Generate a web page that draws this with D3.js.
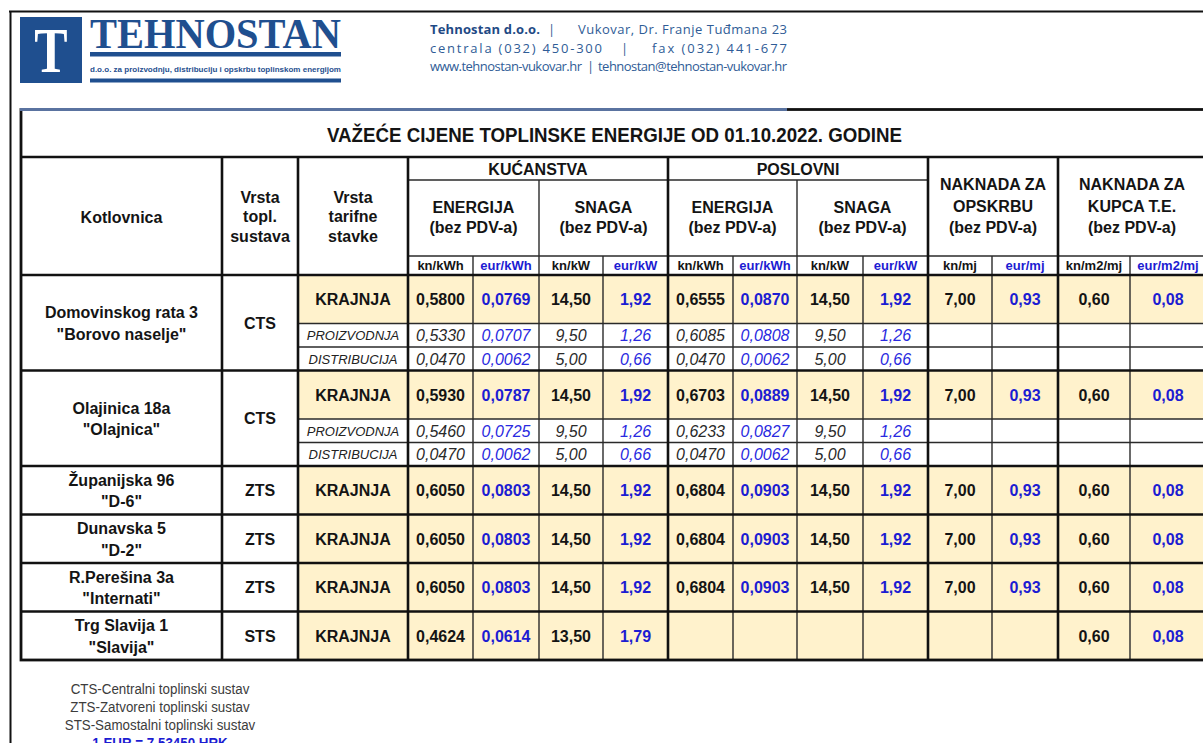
<!DOCTYPE html>
<html>
<head>
<meta charset="utf-8">
<script src="https://cdn.jsdelivr.net/npm/d3@7"></script>
<style>
html, body { margin: 0; padding: 0; background: #fff; overflow: hidden; }
svg { display: block; }
text { font-family: "Liberation Sans", Arial, sans-serif; }
</style>
</head>
<body>
<svg id="svg" width="1203" height="743"></svg>
<script>
// ---- data ----
var title = "VAŽEĆE CIJENE TOPLINSKE ENERGIJE OD 01.10.2022. GODINE";
var locations = [
  ["Domovinskog rata 3", "\"Borovo naselje\""],
  ["Olajinica 18a", "\"Olajnica\""],
  ["Županijska 96", "\"D-6\""],
  ["Dunavska 5", "\"D-2\""],
  ["R.Perešina 3a", "\"Internati\""],
  ["Trg Slavija 1", "\"Slavija\""]
];
var systems = ["CTS", "CTS", "ZTS", "ZTS", "ZTS", "STS"];
var rowTypes = ["KRAJNJA", "PROIZVODNJA", "DISTRIBUCIJA", "KRAJNJA", "PROIZVODNJA", "DISTRIBUCIJA", "KRAJNJA", "KRAJNJA", "KRAJNJA", "KRAJNJA"];
var rowBlock = [0, 0, 0, 1, 1, 1, 2, 3, 4, 5];

var kucEnergijaKn  = [0.5800, 0.5330, 0.0470, 0.5930, 0.5460, 0.0470, 0.6050, 0.6050, 0.6050, 0.4624];
var kucEnergijaEur = [0.0769, 0.0707, 0.0062, 0.0787, 0.0725, 0.0062, 0.0803, 0.0803, 0.0803, 0.0614];
var kucSnagaKn     = [14.50, 9.50, 5.00, 14.50, 9.50, 5.00, 14.50, 14.50, 14.50, 13.50];
var kucSnagaEur    = [1.92, 1.26, 0.66, 1.92, 1.26, 0.66, 1.92, 1.92, 1.92, 1.79];
var posEnergijaKn  = [0.6555, 0.6085, 0.0470, 0.6703, 0.6233, 0.0470, 0.6804, 0.6804, 0.6804, null];
var posEnergijaEur = [0.0870, 0.0808, 0.0062, 0.0889, 0.0827, 0.0062, 0.0903, 0.0903, 0.0903, null];
var posSnagaKn     = [14.50, 9.50, 5.00, 14.50, 9.50, 5.00, 14.50, 14.50, 14.50, null];
var posSnagaEur    = [1.92, 1.26, 0.66, 1.92, 1.26, 0.66, 1.92, 1.92, 1.92, null];
var opskrbaKn      = [7.00, null, null, 7.00, null, null, 7.00, 7.00, 7.00, null];
var opskrbaEur     = [0.93, null, null, 0.93, null, null, 0.93, 0.93, 0.93, null];
var kupacKn        = [0.60, null, null, 0.60, null, null, 0.60, 0.60, 0.60, 0.60];
var kupacEur       = [0.08, null, null, 0.08, null, null, 0.08, 0.08, 0.08, 0.08];

var unitLabels = ["kn/kWh", "eur/kWh", "kn/kW", "eur/kW", "kn/kWh", "eur/kWh", "kn/kW", "eur/kW", "kn/mj", "eur/mj", "kn/m2/mj", "eur/m2/mj"];
var footNotes = ["CTS-Centralni toplinski sustav", "ZTS-Zatvoreni toplinski sustav", "STS-Samostalni toplinski sustav"];
var exchange = "1 EUR = 7,53450 HRK";

// ---- layout ----
var blue = "#1f4f8f";
var valBlue = "#1c1cd2";
var ink = "#141414";
var beige = "#fff2cc";

var hr = d3.formatLocale({decimal: ",", thousands: ".", grouping: [3], currency: ["", ""]});
var f4 = hr.format(".4f"), f2 = hr.format(".2f");

var valueCols = [
  {key: "kucEnKn", values: kucEnergijaKn, fmt: f4, eur: false},
  {key: "kucEnEur", values: kucEnergijaEur, fmt: f4, eur: true},
  {key: "kucSnKn", values: kucSnagaKn, fmt: f2, eur: false},
  {key: "kucSnEur", values: kucSnagaEur, fmt: f2, eur: true},
  {key: "posEnKn", values: posEnergijaKn, fmt: f4, eur: false},
  {key: "posEnEur", values: posEnergijaEur, fmt: f4, eur: true},
  {key: "posSnKn", values: posSnagaKn, fmt: f2, eur: false},
  {key: "posSnEur", values: posSnagaEur, fmt: f2, eur: true},
  {key: "opsKn", values: opskrbaKn, fmt: f2, eur: false},
  {key: "opsEur", values: opskrbaEur, fmt: f2, eur: true},
  {key: "kupKn", values: kupacKn, fmt: f2, eur: false},
  {key: "kupEur", values: kupacEur, fmt: f2, eur: true}
];

var colKeys = ["loc", "sys", "tar"].concat(valueCols.map(function(c){ return c.key; }));
var colEdges = [21, 222, 298, 408, 473, 539, 603, 668, 733, 797, 863, 928, 992, 1058, 1130, 1206];
var xStart = d3.scaleOrdinal(colKeys, colEdges.slice(0, -1));
var xEnd = d3.scaleOrdinal(colKeys, colEdges.slice(1));
function xMid(k) { return (xStart(k) + xEnd(k)) / 2; }

var tableTop = 109.5, titleBottom = 157, groupBottom = 180, labelBottom = 256, headBottom = 275;
var rowIds = d3.range(rowTypes.length);
var rowH = rowTypes.map(function(t){ return t === "KRAJNJA" ? 48.5 : 23.5; });
var rowTops = [headBottom].concat(Array.from(d3.cumsum(rowH), function(v){ return headBottom + v; }));
var yTop = d3.scaleOrdinal(rowIds, rowTops.slice(0, -1));
var yBot = d3.scaleOrdinal(rowIds, rowTops.slice(1));
var tableBottom = rowTops[rowTops.length - 1];
var tableLeft = colEdges[0], tableRight = colEdges[colEdges.length - 1];

const svg = d3.select('#svg');

// centred text helper, cy = visual middle of capitals
function label(g, x, cy, str, size, opt) {
  opt = opt || {};
  return g.append("text")
    .attr("x", x)
    .attr("y", cy + size * 0.355)
    .attr("text-anchor", opt.anchor || "middle")
    .style("font-size", size + "px")
    .style("font-weight", opt.bold ? "bold" : "normal")
    .style("font-style", opt.italic ? "italic" : "normal")
    .style("fill", opt.color || ink)
    .text(str);
}

// ---- page frame + letterhead ----
svg.append("line").attr("x1", 9).attr("x2", 1203).attr("y1", 11.5).attr("y2", 11.5)
  .style("stroke", "#111").style("stroke-width", 2);
svg.append("line").attr("x1", 10.5).attr("x2", 10.5).attr("y1", 11).attr("y2", 743)
  .style("stroke", "#111").style("stroke-width", 2);

var head = svg.append("g");
head.append("rect").attr("x", 20).attr("y", 17).attr("width", 62).attr("height", 66).style("fill", blue);
head.append("text")
  .attr("transform", "translate(51,72) scale(0.78,1)")
  .attr("text-anchor", "middle")
  .style("font-family", "'Liberation Serif', 'DejaVu Serif', serif")
  .style("font-weight", "bold").style("font-size", "64px").style("fill", "#fff")
  .text("T");
head.append("text")
  .attr("x", 90).attr("y", 48)
  .attr("textLength", 251).attr("lengthAdjust", "spacingAndGlyphs")
  .style("font-family", "'Liberation Serif', 'DejaVu Serif', serif")
  .style("font-weight", "bold").style("font-size", "43px").style("fill", blue)
  .text("TEHNOSTAN");
head.append("rect").attr("x", 90).attr("y", 52).attr("width", 251).attr("height", 4.5).style("fill", blue);
head.append("text")
  .attr("x", 90).attr("y", 71.5)
  .attr("textLength", 251).attr("lengthAdjust", "spacingAndGlyphs")
  .style("font-size", "7.5px").style("font-weight", "bold").style("fill", blue)
  .text("d.o.o. za proizvodnju, distribuciju i opskrbu toplinskom energijom");
head.append("rect").attr("x", 90).attr("y", 78.5).attr("width", 251).attr("height", 4).style("fill", blue);

var contact = [
  {x: 430, y: 34, w: 110, s: "Tehnostan d.o.o.", bold: true},
  {x: 548, y: 34, w: 0, s: "|"},
  {x: 578, y: 34, w: 209, s: "Vukovar, Dr. Franje Tuđmana 23"},
  {x: 430, y: 53, w: 172, s: "centrala (032) 450-300"},
  {x: 621, y: 53, w: 0, s: "|"},
  {x: 652, y: 53, w: 135, s: "fax (032) 441-677"},
  {x: 430, y: 71, w: 152, s: "www.tehnostan-vukovar.hr"},
  {x: 587, y: 71, w: 0, s: "|"},
  {x: 598, y: 71, w: 189, s: "tehnostan@tehnostan-vukovar.hr"}
];
contact.forEach(function(c) {
  var t = head.append("text")
    .attr("x", c.x).attr("y", c.y)
    .style("font-family", "'Open Sans', 'Noto Sans', sans-serif")
    .style("font-size", "13px")
    .style("font-weight", c.bold ? "bold" : "normal")
    .style("fill", c.bold ? "#1f4a85" : "#2f5c96")
    .text(c.s);
  if (c.w) t.attr("textLength", c.w).attr("lengthAdjust", "spacing");
});

// ---- table ----
var table = svg.append("g");

// beige fills on final-price rows
table.selectAll("rect.fill")
  .data(rowIds.filter(function(r){ return rowTypes[r] === "KRAJNJA"; }))
  .join("rect").attr("class", "fill")
  .attr("x", xStart("tar")).attr("y", function(r){ return yTop(r); })
  .attr("width", tableRight - xStart("tar"))
  .attr("height", function(r){ return yBot(r) - yTop(r); })
  .style("fill", beige);

var thin = [], thick = [];
// header thin lines
thin.push([xStart("kucEnKn"), groupBottom, xEnd("posSnEur"), groupBottom]);
thin.push([xStart("kucEnKn"), labelBottom, tableRight, labelBottom]);
["kucEnEur", "kucSnEur", "posEnEur", "posSnEur", "opsEur", "kupEur"].forEach(function(k) {
  thin.push([xStart(k), labelBottom, xStart(k), tableBottom]);
});
["kucSnKn", "posSnKn"].forEach(function(k) {
  thin.push([xStart(k), groupBottom, xStart(k), tableBottom]);
});
// sub-row separators
rowIds.forEach(function(r) {
  if (rowTypes[r] !== "KRAJNJA") thin.push([xStart("tar"), yTop(r), tableRight, yTop(r)]);
});
// thick lines
thick.push([tableLeft, titleBottom, tableRight, titleBottom]);
thick.push([tableLeft, headBottom, tableRight, headBottom]);
rowIds.forEach(function(r) {
  if (r > 0 && rowBlock[r] !== rowBlock[r - 1]) thick.push([tableLeft, yTop(r), tableRight, yTop(r)]);
});
["sys", "tar", "kucEnKn", "posEnKn", "opsKn", "kupKn"].forEach(function(k) {
  thick.push([xStart(k), titleBottom, xStart(k), tableBottom]);
});

table.selectAll("line.thin").data(thin).join("line").attr("class", "thin")
  .attr("x1", function(d){ return d[0]; }).attr("y1", function(d){ return d[1]; })
  .attr("x2", function(d){ return d[2]; }).attr("y2", function(d){ return d[3]; })
  .style("stroke", "#2a2a2a").style("stroke-width", 1.4);
table.selectAll("line.thick").data(thick).join("line").attr("class", "thick")
  .attr("x1", function(d){ return d[0]; }).attr("y1", function(d){ return d[1]; })
  .attr("x2", function(d){ return d[2]; }).attr("y2", function(d){ return d[3]; })
  .style("stroke", "#111").style("stroke-width", 2.6);
table.append("rect")
  .attr("x", tableLeft).attr("y", tableTop)
  .attr("width", tableRight - tableLeft).attr("height", tableBottom - tableTop)
  .style("fill", "none").style("stroke", "#111").style("stroke-width", 2.8);
// blue rule under the letterhead
table.append("line").attr("x1", tableLeft - 1).attr("x2", 787).attr("y1", tableTop).attr("y2", tableTop)
  .style("stroke", "#5a73a0").style("stroke-width", 2.8);

// title
table.append("text")
  .attr("x", 614.5).attr("y", 141.5)
  .attr("text-anchor", "middle")
  .attr("textLength", 575).attr("lengthAdjust", "spacingAndGlyphs")
  .style("font-size", "19.5px").style("font-weight", "bold").style("fill", ink)
  .text(title);

// header texts
var hd = table.append("g");
function stack(x, cys, lines) {
  lines.forEach(function(s, i){ label(hd, x, cys[i], s, 16, {bold: true}); });
}
label(hd, xMid("loc"), 217, "Kotlovnica", 16, {bold: true});
stack(xMid("sys"), [197, 216.5, 236], ["Vrsta", "topl.", "sustava"]);
stack(xMid("tar"), [197, 216.5, 236], ["Vrsta", "tarifne", "stavke"]);
label(hd, (xStart("kucEnKn") + xEnd("kucSnEur")) / 2, 169, "KUĆANSTVA", 16, {bold: true});
label(hd, (xStart("posEnKn") + xEnd("posSnEur")) / 2, 169, "POSLOVNI", 16, {bold: true});
[["kucEnKn", "kucEnEur", "ENERGIJA"], ["kucSnKn", "kucSnEur", "SNAGA"],
 ["posEnKn", "posEnEur", "ENERGIJA"], ["posSnKn", "posSnEur", "SNAGA"]].forEach(function(g) {
  stack((xStart(g[0]) + xEnd(g[1])) / 2, [207, 227], [g[2], "(bez PDV-a)"]);
});
stack((xStart("opsKn") + xEnd("opsEur")) / 2, [184.5, 206, 227], ["NAKNADA ZA", "OPSKRBU", "(bez PDV-a)"]);
stack((xStart("kupKn") + xEnd("kupEur")) / 2, [184.5, 206, 227], ["NAKNADA ZA", "KUPCA T.E.", "(bez PDV-a)"]);
valueCols.forEach(function(c, i) {
  label(hd, xMid(c.key), 265.5, unitLabels[i], 13, {bold: true, color: c.eur ? valBlue : ink});
});

// body texts
var body = table.append("g");
d3.range(locations.length).forEach(function(b) {
  var rows = rowIds.filter(function(r){ return rowBlock[r] === b; });
  var top = yTop(rows[0]), bot = yBot(rows[rows.length - 1]);
  var cy = (top + bot) / 2 + 0.5;
  label(body, xMid("loc"), cy - 10.75, locations[b][0], 16, {bold: true});
  label(body, xMid("loc"), cy + 10.75, locations[b][1], 16, {bold: true});
  label(body, xMid("sys"), (top + bot) / 2 + 0.5, systems[b], 16, {bold: true});
});
rowIds.forEach(function(r) {
  var main = rowTypes[r] === "KRAJNJA";
  var cy = (yTop(r) + yBot(r)) / 2 + 0.5;
  label(body, xMid("tar"), cy, rowTypes[r], main ? 16 : 13, {bold: main, italic: !main, color: main ? ink : "#222"});
  valueCols.forEach(function(c) {
    var v = c.values[r];
    if (v === null) return;
    label(body, xMid(c.key), cy, c.fmt(v), 16, {
      bold: main, italic: !main,
      color: c.eur ? (main ? valBlue : "#2a2ae0") : (main ? ink : "#2a2a2a")
    });
  });
});

// footnotes
var foot = svg.append("g");
footNotes.forEach(function(s, i) {
  foot.append("text")
    .attr("transform", "translate(160," + (693.5 + i * 18) + ") scale(0.89,1)")
    .attr("text-anchor", "middle")
    .style("font-size", "15px").style("fill", "#3c3c3c")
    .text(s);
});
foot.append("text")
  .attr("transform", "translate(160,747.5) scale(0.89,1)")
  .attr("text-anchor", "middle")
  .style("font-size", "15px").style("font-weight", "bold").style("fill", valBlue)
  .text(exchange);
</script>
</body>
</html>
